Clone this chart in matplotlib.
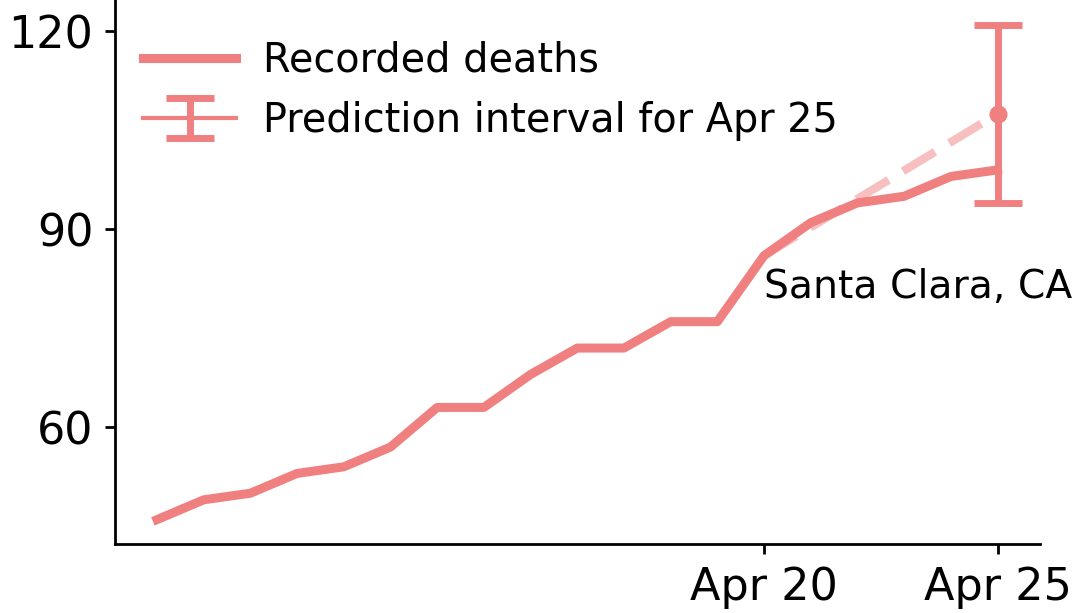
import numpy as np
import matplotlib
matplotlib.use("Agg")
import matplotlib.pyplot as plt

# daily cumulative deaths, Santa Clara County, Apr 7 - Apr 25
days = list(range(7, 26))
deaths = [46, 49, 50, 53, 54, 57, 63, 63, 68, 72, 72, 76, 76, 86, 91, 94, 95, 98, 99]

# prediction made on Apr 20 for Apr 25
pred_from_day = 20
pred_day = 25
pred_mid = 107.5
pred_low = 94
pred_high = 121

xtick_days = [20, 25]
xtick_labels = ["Apr 20", "Apr 25"]
ytick_values = [60, 90, 120]

color = "lightcoral"

fig = plt.figure(figsize=(10.75, 6.13), dpi=100)
ax = fig.add_axes([0.107, 0.112, 0.86, 0.888])

ax.plot(days, deaths, color=color, lw=6.5, label="Recorded deaths", zorder=3)

start_val = deaths[days.index(pred_from_day)]
ax.plot([pred_from_day, pred_day], [start_val, pred_mid], color=color,
        lw=6, ls=(0, (4.5, 2)), alpha=0.5, zorder=2)

ax.errorbar([pred_day], [pred_mid],
            yerr=[[pred_mid - pred_low], [pred_high - pred_mid]],
            fmt="-", color=color, lw=3, elinewidth=5,
            capsize=17, capthick=5, label="Prediction interval for Apr 25",
            zorder=4)
ax.plot([pred_day], [pred_mid], "o", ms=12, color=color, zorder=5)

ax.text(pred_from_day, 79.6, "Santa Clara, CA", fontsize=28.3, ha="left",
        va="baseline")

ax.set_xticks(xtick_days)
ax.set_xticklabels(xtick_labels)
ax.set_yticks(ytick_values)
ax.tick_params(labelsize=32, length=7.5, width=2)
ax.tick_params(axis="y", pad=8)
ax.tick_params(axis="x", pad=8)
for side in ["top", "right"]:
    ax.spines[side].set_visible(False)
for side in ["left", "bottom"]:
    ax.spines[side].set_linewidth(2)

ax.margins(x=0.05, y=0.05)

ax.legend(loc="upper left", frameon=False, fontsize=28.6,
          handlelength=2.35, handletextpad=0.68, borderaxespad=0.2,
          bbox_to_anchor=(0.0046, 0.969))

fig.savefig("out.png", dpi=100)
